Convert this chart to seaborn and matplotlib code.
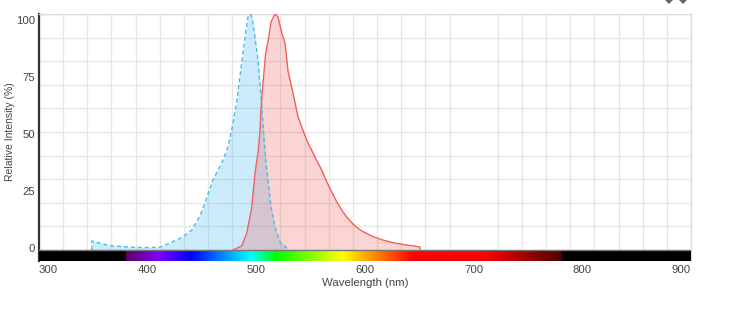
import numpy as np
import pandas as pd
import matplotlib
matplotlib.use('Agg')
import matplotlib.pyplot as plt
import seaborn as sns
from matplotlib.colors import LinearSegmentedColormap
from matplotlib.patches import Polygon

# excitation curve (blue, dashed)
ex_nm = [348.5, 348.6, 365.3, 388.3, 402.1, 411.3, 420.5, 431.3, 440.8, 448.2, 452.8, 460.1,
         469.3, 473.9, 477.6, 482.2, 486.8, 489.6, 492.3, 494.2, 496.0, 498.8, 501.5, 504.3,
         506.1, 508.6, 510.7, 513.5, 517.2, 521.8, 529.1]
ex_val = [0.0, 3.8, 1.8, 1.1, 1.0, 1.2, 2.9, 5.3, 8.5, 14.5, 20.0, 29.7,
          38.0, 43.7, 51.5, 63.6, 80.5, 90.0, 98.7, 100.0, 98.7, 90.0, 80.5, 65.0,
          53.8, 38.0, 29.7, 18.3, 9.7, 3.4, 0.4]

# emission curve (red, solid)
em_nm = [478.5, 486.5, 491.1, 495.7, 498.8, 501.8, 503.4, 504.0, 506.4, 508.6, 511.0, 513.5,
         517.2, 520.0, 523.4, 526.4, 529.1, 533.7, 538.3, 542.9, 546.3, 549.4, 555.5, 560.1,
         564.7, 569.3, 573.9, 578.5, 583.1, 587.7, 592.3, 598.1, 607.3, 616.6, 625.8, 638.4,
         650.4, 650.6]
em_val = [0.0, 1.7, 7.0, 17.8, 32.6, 42.0, 50.8, 58.0, 72.0, 83.5, 89.0, 96.6,
          100.0, 98.7, 92.0, 87.7, 76.0, 66.5, 56.5, 50.8, 46.6, 43.7, 38.0, 33.9,
          29.0, 24.7, 20.5, 17.0, 14.0, 11.6, 9.6, 7.8, 5.7, 4.2, 3.1, 2.1,
          1.3, 0.0]

# tick labels
x_labels = ['300', '400', '500', '600', '700', '800', '900']
x_label_pos = [308, 400, 500, 600, 700, 800, 891]
y_labels = ['0', '25', '50', '75', '100']
y_label_pos = [0.8, 25, 49, 73.5, 97.5]

# wavelength colour strip
strip_nm = [300, 379.5, 380, 410, 440, 495, 518, 579, 644, 708, 781, 781.5, 900]
strip_col = ['#000000', '#000000', '#5a0060', '#7f00ff', '#0000ff', '#00ffff', '#00ff00',
             '#ffff00', '#ff0000', '#ff0000', '#500000', '#000000', '#000000']

sns.set_style('white')
plt.rcParams['font.family'] = ['Liberation Sans', 'DejaVu Sans']

fig = plt.figure(figsize=(7.32, 3.27), dpi=100)
ax = fig.add_axes([39 / 732, 1 - 261 / 327, 652 / 732, 247 / 327])

y_bottom = -4.66

# grid
ax.set_xticks(np.linspace(300, 900, 28), minor=True)
ax.set_yticks(np.arange(0, 101, 10), minor=True)
ax.grid(which='minor', color='#e6e6e6', linewidth=1.0)
ax.set_axisbelow(True)

# fills then lines
ax.fill_between(ex_nm, ex_val, 0, color='#3bb5ee', alpha=0.26, linewidth=0, zorder=2)
ax.fill_between(em_nm, em_val, 0, color='#f0504c', alpha=0.24, linewidth=0, zorder=2)
sns.lineplot(x=ex_nm, y=ex_val, ax=ax, estimator=None, sort=False, color='#4db9ea',
             linewidth=1.0, linestyle=(0, (3, 2)), zorder=3)
sns.lineplot(x=em_nm, y=em_val, ax=ax, estimator=None, sort=False, color='#f0605c',
             linewidth=1.0, zorder=3)

# colour strip under the plot
stops = [(n - 300) / 600 for n in strip_nm]
cmap = LinearSegmentedColormap.from_list('spectrum', list(zip(stops, strip_col)), N=1024)
ax.imshow(np.linspace(0, 1, 1024).reshape(1, -1), cmap=cmap, aspect='auto',
          extent=(300, 900, y_bottom, 0), zorder=4)
ax.axhline(0, color='#777777', linewidth=1.0, zorder=5)

ax.set_xlim(300, 900)
ax.set_ylim(y_bottom, 100)

ax.set_xticks(x_label_pos)
ax.set_xticklabels(x_labels)
ax.set_yticks(y_label_pos)
ax.set_yticklabels(y_labels)
ax.tick_params(which='both', length=0)
ax.tick_params(axis='both', which='major', labelsize=8.2, labelcolor='#444444')
ax.tick_params(axis='x', pad=3)
ax.tick_params(axis='y', pad=3)

ax.set_xlabel('Wavelength (nm)', fontsize=8.2, color='#444444')
ax.set_ylabel('Relative Intensity (%)', fontsize=7.5, color='#444444')
ax.xaxis.set_label_coords((365 - 39) / 652, -(283 - 261) / 247, transform=ax.transAxes)
ax.yaxis.set_label_coords(-(39 - 10) / 652, (261 - 132) / 247, transform=ax.transAxes)
ax.xaxis.label.set_verticalalignment('center')
ax.yaxis.label.set_verticalalignment('center')

for side in ['top', 'right']:
    ax.spines[side].set_color('#dcdcdc')
    ax.spines[side].set_linewidth(1.0)
ax.spines['bottom'].set_visible(False)
ax.spines['left'].set_color('#333333')
ax.spines['left'].set_linewidth(1.6)

# cut off icons at the top right corner
for cx in [669, 683]:
    fig.add_artist(Polygon([[(cx - 4) / 732, 1], [(cx + 4) / 732, 1], [cx / 732, 1 - 4 / 327]],
                           closed=True, transform=fig.transFigure, color='#666666', linewidth=0))

fig.savefig('out.png', dpi=100)
